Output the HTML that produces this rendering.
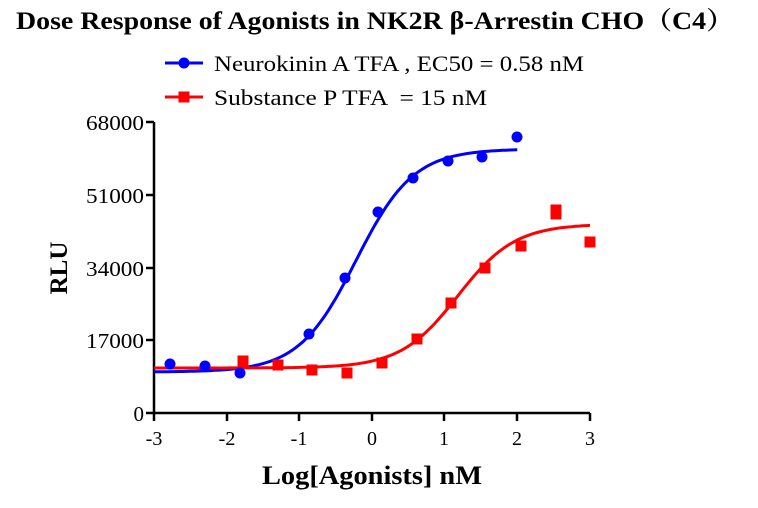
<!DOCTYPE html>
<html><head><meta charset="utf-8"><style>
body{margin:0;background:#fff}
svg text{font-family:"Liberation Serif","Noto Serif CJK SC",serif}
</style></head><body>
<svg id="s" width="758" height="503" xmlns="http://www.w3.org/2000/svg">
<text x="16" y="29" font-size="25" font-weight="bold" textLength="718" lengthAdjust="spacingAndGlyphs">Dose Response of Agonists in NK2R β-Arrestin CHO（C4）</text>
<line x1="165" y1="63" x2="203" y2="63" stroke="#0000ff" stroke-width="3"/>
<circle cx="184" cy="63" r="5.5" fill="#0000ff"/>
<text x="214" y="71" font-size="22" textLength="370" lengthAdjust="spacingAndGlyphs">Neurokinin A TFA , EC50 = 0.58 nM</text>
<line x1="165" y1="97" x2="203" y2="97" stroke="#ff0000" stroke-width="3"/>
<rect x="178.5" y="91.5" width="11" height="11" fill="#ff0000"/>
<text x="214" y="105" font-size="22" textLength="273" lengthAdjust="spacingAndGlyphs" xml:space="preserve">Substance P TFA  = 15 nM</text>
<g stroke="#000" stroke-width="2.5" fill="none">
<path d="M154 122V413H590"/>
<path d="M146 122H154M146 195H154M146 268H154M146 340H154M146 413H154"/>
<path d="M154 413V421M227 413V421M299 413V421M372 413V421M444 413V421M517 413V421M590 413V421"/>
</g>
<g font-size="21" text-anchor="end">
<text x="144" y="130" textLength="58" lengthAdjust="spacingAndGlyphs">68000</text><text x="144" y="203" textLength="58" lengthAdjust="spacingAndGlyphs">51000</text><text x="144" y="276" textLength="58" lengthAdjust="spacingAndGlyphs">34000</text><text x="144" y="348" textLength="58" lengthAdjust="spacingAndGlyphs">17000</text><text x="144" y="421">0</text>
</g>
<g font-size="20" text-anchor="middle">
<text x="154" y="445">-3</text><text x="227" y="445">-2</text><text x="299" y="445">-1</text><text x="372" y="445">0</text><text x="444" y="445">1</text><text x="517" y="445">2</text><text x="590" y="445">3</text>
</g>
<text x="262" y="484" font-size="26" font-weight="bold" textLength="220" lengthAdjust="spacingAndGlyphs">Log[Agonists] nM</text>
<text transform="translate(67,268) rotate(-90)" text-anchor="middle" font-size="25" font-weight="bold">RLU</text>
<path id="bc" fill="none" stroke="#0000ff" stroke-width="3"/>
<path id="rc" fill="none" stroke="#ff0000" stroke-width="3"/>
<g fill="#0000ff">
<circle cx="170" cy="364" r="5.5"/><circle cx="205" cy="366" r="5.5"/><circle cx="240" cy="373" r="5.5"/><circle cx="309" cy="334" r="5.5"/><circle cx="345" cy="278" r="5.5"/><circle cx="378" cy="212" r="5.5"/><circle cx="413" cy="178" r="5.5"/><circle cx="448" cy="161" r="5.5"/><circle cx="482" cy="157" r="5.5"/><circle cx="517" cy="137" r="5.5"/>
</g>
<g fill="#ff0000">
<rect x="237.5" y="355.5" width="11" height="11"/>
<rect x="272.5" y="359.5" width="11" height="11"/>
<rect x="306.5" y="364.5" width="11" height="11"/>
<rect x="341.5" y="367.5" width="11" height="11"/>
<rect x="376.5" y="357.5" width="11" height="11"/>
<rect x="411.5" y="333.5" width="11" height="11"/>
<rect x="445.5" y="297.5" width="11" height="11"/>
<rect x="479.5" y="262.5" width="11" height="11"/>
<rect x="515.5" y="240.5" width="11" height="11"/>
<rect x="550.5" y="204.5" width="11" height="15"/>
<rect x="584.5" y="236.5" width="11" height="11"/>
</g>
<script>
var X=function(l){return 372+l*72.67};
function curve(id,a,b,bot,top,ec,h){var d="";for(var l=a;l<=b+1e-9;l+=0.05){var y=bot+(top-bot)/(1+Math.pow(10,(ec-l)*h));d+=(d?"L":"M")+X(l).toFixed(1)+" "+y.toFixed(1);}document.getElementById(id).setAttribute("d",d);}
curve("bc",-3,2,372,149,-0.22,1.1);
curve("rc",-3,3,368,224,1.18,1.1);
</script>
</svg>
</body></html>
